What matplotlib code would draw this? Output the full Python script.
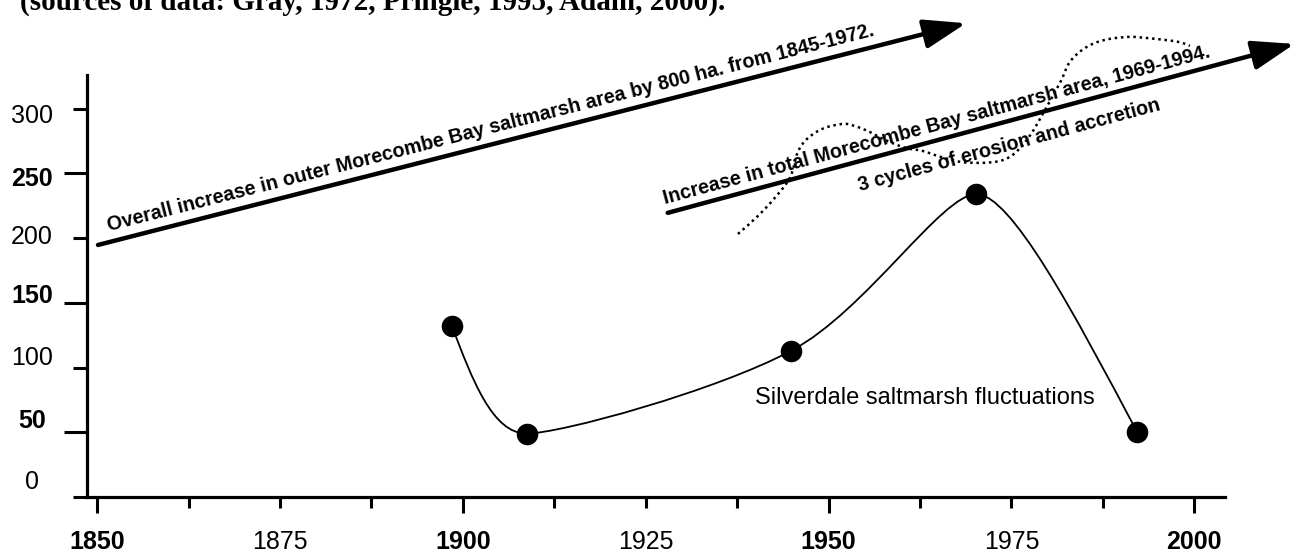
import matplotlib
matplotlib.use('Agg')
import matplotlib.pyplot as plt
from matplotlib.font_manager import FontProperties
from matplotlib.path import Path
from matplotlib.patches import PathPatch
from matplotlib.ticker import FixedLocator, FixedFormatter, NullFormatter
import numpy as np

# Silverdale saltmarsh fluctuations
years = [1898.5, 1908.7, 1944.9, 1970.2, 1992.2]
area = [132, 49, 113, 234, 50]

# trend arrows: (x0, y0, x1, y1) in data units
outer_arrow = [1850.1, 194.7, 1968.8, 366.0]
total_arrow = [1928.0, 219.5, 2013.7, 350.0]

# hand-drawn dotted "3 cycles" line
cycle_x = [1937.6, 1940.2, 1942.4, 1944.7, 1945.8, 1947.2, 1949.5, 1952.3, 1955.0,
           1957.7, 1960.5, 1962.8, 1965.3, 1968.0, 1970.7, 1973.5, 1975.5, 1977.6,
           1979.6, 1981.7, 1983.0, 1985.1, 1987.8, 1991.3, 1994.7, 1997.8, 1999.4]
cycle_y = [203.2, 216.4, 229.5, 246.5, 266.6, 277.4, 285.2, 288.3, 283.6,
           275.9, 269.7, 267.4, 262.8, 258.9, 258.1, 259.7, 265.8, 279.8,
           299.1, 320.7, 336.2, 347.0, 353.2, 355.5, 353.9, 351.6, 348.5]

x_major = [1850, 1900, 1950, 2000]
x_minor = [1862.5, 1875, 1887.5, 1912.5, 1925, 1937.5, 1962.5, 1975, 1987.5]
x_minor_labels = ['', '1875', '', '', '1925', '', '', '1975', '']
y_major = [50, 150, 250]
y_minor = [0, 100, 200, 300]
y_labels = [0, 50, 100, 150, 200, 250, 300]
y_label_bold = [False, True, False, True, False, True, False]
y_label_shift = [10.8, 7.9, 7.2, 5.0, 0.7, -4.3, -5.0]  # points, as drawn in the source

title = "(sources of data: Gray, 1972, Pringle, 1995, Adam, 2000)."
outer_text = "Overall increase in outer Morecombe Bay saltmarsh area by 800 ha. from 1845-1972."
total_text = "Increase in total Morecombe Bay saltmarsh area, 1969-1994."
cycle_text = "3 cycles of erosion and accretion"
series_text = "Silverdale saltmarsh fluctuations"

plt.rcParams['font.family'] = ['Liberation Sans', 'DejaVu Sans']


def caption_props(size):
    return FontProperties(family=['Liberation Sans', 'DejaVu Sans'], weight='bold', size=size)


def smooth_path(xs, ys):
    # cubic bezier through the points (Catmull-Rom style), flat at local extrema
    p = np.column_stack([xs, ys]).astype(float)
    n = len(p)
    tang = np.zeros_like(p)
    for i in range(1, n - 1):
        t = (p[i + 1] - p[i - 1]) / 6.0
        if (p[i, 1] - p[i - 1, 1]) * (p[i + 1, 1] - p[i, 1]) < 0:
            t = np.array([t[0] * 0.6, 0.0])
        tang[i] = t
    verts = [p[0]]
    codes = [Path.MOVETO]
    for i in range(n - 1):
        c2 = p[i + 1] - tang[i + 1]
        c1 = p[i] + tang[i]
        if i == 0:
            c1 = p[0] + (c2 - p[0]) / 2.0
        if i == n - 2:
            c2 = p[i + 1] + (c1 - p[i + 1]) / 2.0
        verts += [c1, c2, p[i + 1]]
        codes += [Path.CURVE4] * 3
    return Path(verts, codes)


fig = plt.figure(figsize=(13.07, 5.55), dpi=100)
ax = fig.add_axes([87 / 1307, 58 / 555, 1138 / 1307, 422 / 555])
ax.set_xlim(1848.6, 2004.2)
ax.set_ylim(0, 326)

for s in ['top', 'right']:
    ax.spines[s].set_visible(False)
for s in ['left', 'bottom']:
    ax.spines[s].set_linewidth(2.3)

ax.xaxis.set_major_locator(FixedLocator(x_major))
ax.xaxis.set_major_formatter(FixedFormatter([str(v) for v in x_major]))
ax.xaxis.set_minor_locator(FixedLocator(x_minor))
ax.xaxis.set_minor_formatter(FixedFormatter(x_minor_labels))
ax.yaxis.set_major_locator(FixedLocator(y_major))
ax.yaxis.set_major_formatter(NullFormatter())
ax.yaxis.set_minor_locator(FixedLocator(y_minor))

ax.tick_params(axis='x', which='major', length=11.5, width=2.2, pad=12, labelsize=18)
ax.tick_params(axis='x', which='minor', length=8, width=2.2, pad=15.5, labelsize=18)
ax.tick_params(axis='y', which='major', length=16.5, width=2.2)
ax.tick_params(axis='y', which='minor', length=10, width=2.2)
for lab in ax.get_xticklabels():
    lab.set_fontweight('bold')

# y labels sit a little off their ticks in the source figure
for v, b, sh in zip(y_labels, y_label_bold, y_label_shift):
    ax.annotate(str(v), xy=(0, v), xycoords=('axes fraction', 'data'),
                xytext=(-39.6, sh), textcoords='offset points', ha='center', va='center',
                fontsize=18, fontweight='bold' if b else 'normal', annotation_clip=False)

# series curve and points
ax.add_patch(PathPatch(smooth_path(years, area), fill=False, lw=1.3, color='black'))
ax.plot(years, area, 'o', ms=14.5, color='black', zorder=5)
ax.text(1940.0, 76.5, series_text, fontsize=17, ha='left', va='center')

# dotted cycles line
ax.add_patch(PathPatch(smooth_path(cycle_x, cycle_y), fill=False, lw=1.8,
                       color='black', linestyle=(0, (1, 1.5)), clip_on=False))

# size the arrow captions so the long one spans its arrow as in the source
renderer = fig.canvas.get_renderer()
probe = fig.text(0, 0, outer_text, fontproperties=caption_props(16))
cap_size = 16 * 790 / probe.get_window_extent(renderer).width
probe.remove()


def trend_arrow(arr, label, frac, offset, va):
    x0, y0, x1, y1 = arr
    ax.annotate('', xy=(x1, y1), xytext=(x0, y0), annotation_clip=False,
                arrowprops=dict(arrowstyle='-|>,head_length=2.6,head_width=0.9',
                                mutation_scale=10, lw=3.2, color='black',
                                shrinkA=0, shrinkB=0))
    p0 = ax.transData.transform((x0, y0))
    p1 = ax.transData.transform((x1, y1))
    ang = np.degrees(np.arctan2(p1[1] - p0[1], p1[0] - p0[0]))
    for txt, f, off, v in zip(label, frac, offset, va):
        xa = x0 + f * (x1 - x0)
        ya = y0 + f * (y1 - y0)
        dx = -np.sin(np.radians(ang)) * off
        dy = np.cos(np.radians(ang)) * off
        ax.annotate(txt, xy=(xa, ya), xytext=(dx, dy), textcoords='offset points',
                    rotation=ang, rotation_mode='anchor', ha='left', va=v,
                    fontproperties=caption_props(cap_size), annotation_clip=False)


trend_arrow(outer_arrow, [outer_text], [0.016], [5], ['bottom'])
trend_arrow(total_arrow, [total_text, cycle_text], [0.0, 0.295], [3.5, -10], ['bottom', 'top'])

fig.text(20 / 1307, 1 - 10 / 555, title, family=['Liberation Serif', 'DejaVu Serif'],
         fontweight='bold', fontsize=21, va='baseline', ha='left')

fig.savefig('out.png', dpi=100)
